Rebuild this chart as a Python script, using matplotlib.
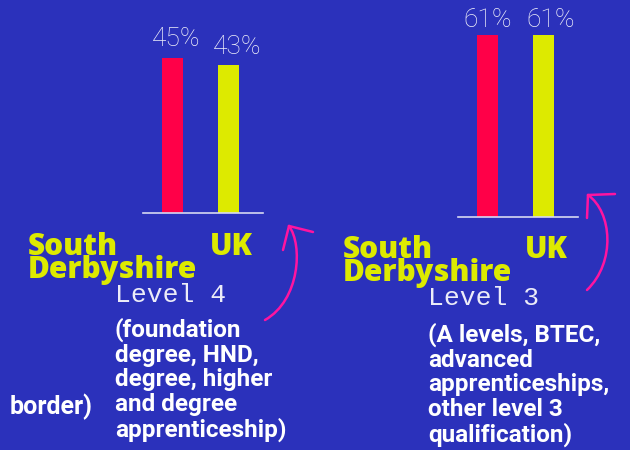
import matplotlib
matplotlib.use("Agg")
import matplotlib.pyplot as plt
from matplotlib.path import Path
from matplotlib.patches import PathPatch

# ---- data ----
areas = ["South Derbyshire", "UK"]
level4_values = [45, 43]
level3_values = [61, 61]
level4_title = "Level 4"
level3_title = "Level 3"
level4_desc = "(foundation\ndegree, HND,\ndegree, higher\nand degree\napprenticeship)"
level3_desc = "(A levels, BTEC,\nadvanced\napprenticeships,\nother level 3\nqualification)"
cut_text = "border)"

BG = "#2B31BB"
RED = "#FF0048"
YEL = "#DDEA00"
PINK = "#FF14A0"
AXL = "#D6D8F2"

W, H = 630, 450
fig = plt.figure(figsize=(6.3, 4.5), dpi=100, facecolor=BG)

def add_bar_axes(left, right, base, ymax):
    h = 200
    ax = fig.add_axes([left / W, 1 - base / H, (right - left) / W, h / H])
    ax.set_facecolor("none")
    ax.set_xlim(-0.527, 1.616)
    ax.set_ylim(0, ymax)
    for s in ["top", "left", "right"]:
        ax.spines[s].set_visible(False)
    ax.spines["bottom"].set_color(AXL)
    ax.spines["bottom"].set_linewidth(1.2)
    ax.spines["bottom"].set_zorder(5)
    ax.set_xticks([])
    ax.set_yticks([])
    return ax

def draw_bars(ax, vals, offs):
    bars = ax.bar([0, 1], vals, width=0.375, color=[RED, YEL], zorder=2)
    for b, v, (dx, dy) in zip(bars, vals, offs):
        ax.annotate(f"{v}%", (b.get_x() + b.get_width() / 2, v),
                    xytext=(dx, dy), textcoords="offset pixels",
                    ha="center", va="bottom", color="#F0F0FA",
                    fontsize=19, family="Roboto", fontweight="light")

ax1 = add_bar_axes(143, 263, 213, 200 / 3.45)
draw_bars(ax1, level4_values, [(4, 7), (9, 6)])
ax2 = add_bar_axes(458, 578, 216.7, 200 / 2.98)
draw_bars(ax2, level3_values, [(0, 3), (7, 3)])

ov = fig.add_axes([0, 0, 1, 1])
ov.set_xlim(0, W)
ov.set_ylim(H, 0)
ov.axis("off")
ov.set_facecolor("none")

HEAVY = dict(family=["Open Sans", "Roboto"], fontweight=800)

def panel_text(x_sd, y_sd, x_uk, x_lvl, y_lvl, title, y_desc, desc):
    ov.text(x_sd, y_sd, "South\nDerbyshire", color=YEL, fontsize=21.5,
            ha="left", va="top", linespacing=0.70, **HEAVY)
    ov.text(x_uk, y_sd, "UK", color=YEL, fontsize=21.5,
            ha="left", va="top", **HEAVY)
    ov.text(x_lvl, y_lvl, title, color="#ECECF8", fontsize=19,
            family="Liberation Mono", ha="left", va="top")
    ov.text(x_lvl, y_desc, desc, color="white", fontsize=17.5,
            family="Roboto", fontweight="bold", ha="left", va="top",
            linespacing=1.08)

panel_text(28, 232, 210, 115, 283, level4_title, 318, level4_desc)
panel_text(343, 235, 525, 428, 286, level3_title, 323, level3_desc)

ov.text(93, 414, cut_text, color="white", fontsize=18, family="Roboto",
        fontweight="bold", ha="right", va="baseline")

def arrow(curve, arms):
    p = Path(curve, [Path.MOVETO, Path.CURVE4, Path.CURVE4, Path.CURVE4])
    ov.add_patch(PathPatch(p, fill=False, edgecolor=PINK, lw=1.8,
                           capstyle="round"))
    tip = curve[-1]
    for a in arms:
        ov.plot([tip[0], a[0]], [tip[1], a[1]], color=PINK, lw=1.8,
                solid_capstyle="round")

arrow([(265, 320), (300, 300), (303, 245), (289, 226)],
      [(283, 250), (313, 232)])
arrow([(587, 290), (616, 262), (612, 212), (588, 195)],
      [(587, 218), (615, 194)])

fig.savefig("out.png", dpi=100, facecolor=BG)
